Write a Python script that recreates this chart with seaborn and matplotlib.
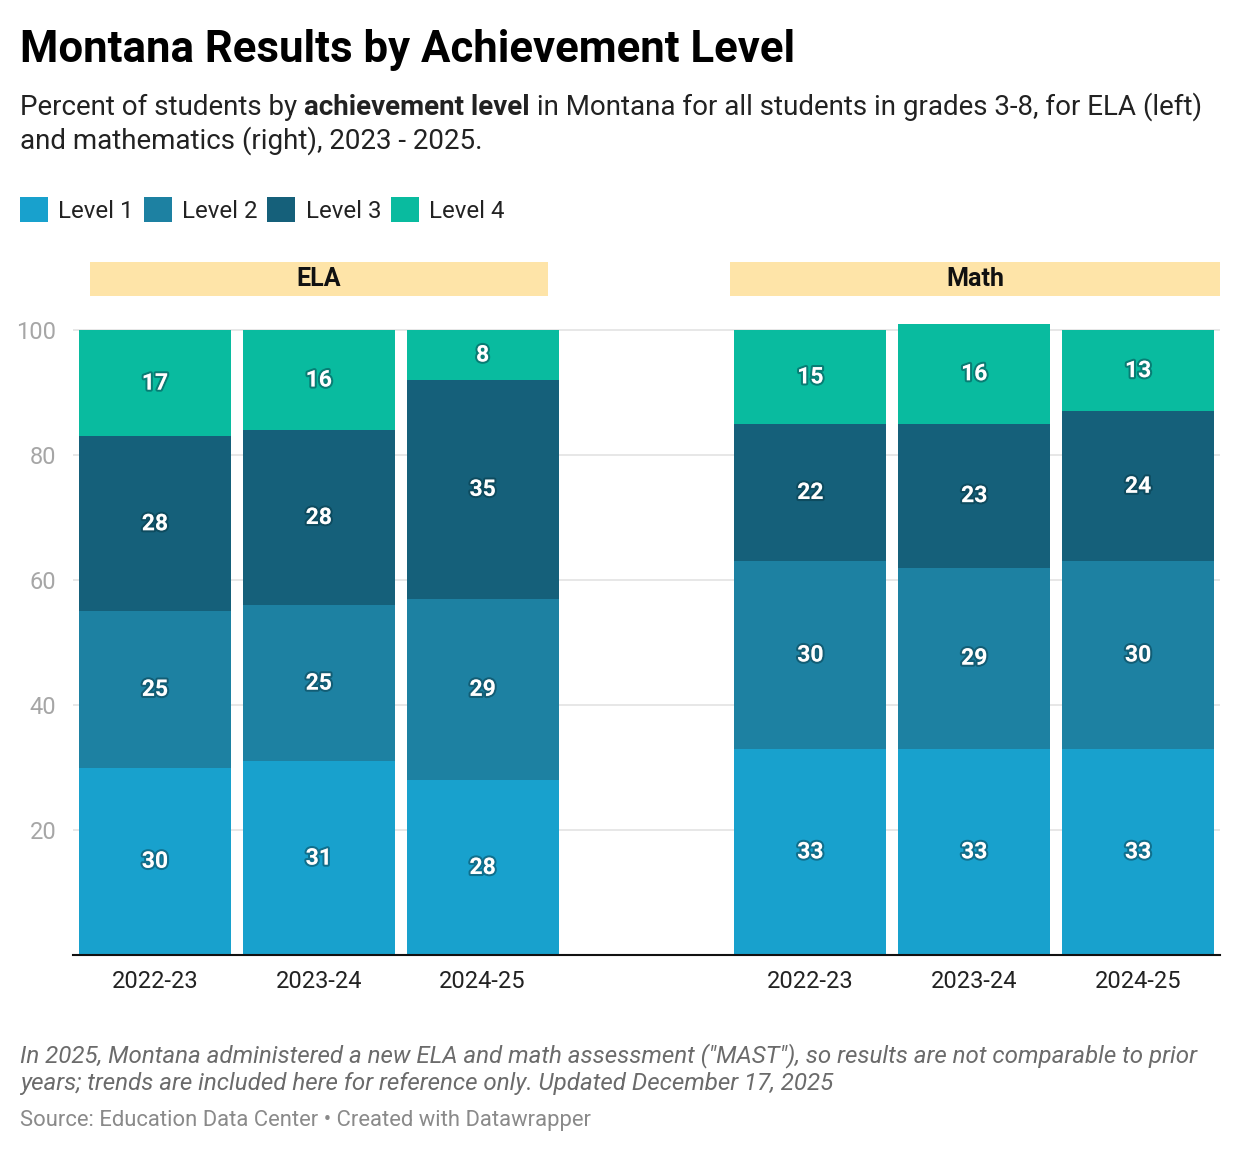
import matplotlib
matplotlib.use("Agg")
import matplotlib.pyplot as plt
import matplotlib.patches as mpatches
import matplotlib.patheffects as pe
import seaborn as sns
import pandas as pd

# Data
subjects = ["ELA", "ELA", "ELA", "Math", "Math", "Math"]
years = ["2022-23", "2023-24", "2024-25", "2022-23", "2023-24", "2024-25"]
level1 = [30, 31, 28, 33, 33, 33]
level2 = [25, 25, 29, 30, 29, 30]
level3 = [28, 28, 35, 22, 23, 24]
level4 = [17, 16, 8, 15, 16, 13]
levels = ["Level 1", "Level 2", "Level 3", "Level 4"]
colors = ["#18a1cd", "#1d81a2", "#15607a", "#09bb9f"]

W, H = 1240, 1152
FONT = "Roboto"

sns.set_theme(style="white")
plt.rcParams["font.family"] = [FONT, "DejaVu Sans"]


def fx(px):
    return px / W


def fy(py):
    return 1 - py / H


df = pd.DataFrame({"subject": subjects, "year": years,
                   "Level 1": level1, "Level 2": level2,
                   "Level 3": level3, "Level 4": level4})
df["slot"] = df["subject"] + " " + df["year"]
cum = df[levels].cumsum(axis=1)
for lv in levels:
    df["cum " + lv] = cum[lv]

order = list(df["slot"][:3]) + ["gap"] + list(df["slot"][3:])

fig = plt.figure(figsize=(W / 100, H / 100), dpi=100)
ax = fig.add_axes([fx(73), fy(955), fx(1220) - fx(73), fy(317.5) - fy(955)])

# stacked bars: draw cumulative totals from the top level down
for lv, col in reversed(list(zip(levels, colors))):
    sns.barplot(data=df, x="slot", y="cum " + lv, order=order, color=col,
                saturation=1, width=0.927, errorbar=None, linewidth=0, ax=ax)

shadow = [pe.withStroke(linewidth=3, foreground=(0.02, 0.2, 0.25, 0.45))]
for _, row in df.iterrows():
    xpos = order.index(row["slot"])
    for lv in levels:
        ymid = row["cum " + lv] - row[lv] / 2
        ax.text(xpos, ymid, str(row[lv]), ha="center", va="center",
                color="white", fontsize=16.5, fontweight="bold",
                path_effects=shadow, zorder=5)

ax.set_ylim(0, 102)
ax.set_xlim(-0.5, len(order) - 0.5)
ax.set_xticks(range(len(order)))
ax.set_xticklabels(["" if s == "gap" else s.split(" ")[1] for s in order],
                   fontsize=17, color="#222222")
ax.set_yticks([20, 40, 60, 80, 100])
ax.set_yticklabels(["20", "40", "60", "80", "100"], fontsize=17, color="#a6a6a6")
ax.tick_params(axis="both", length=0)
ax.tick_params(axis="y", pad=12)
ax.tick_params(axis="x", pad=11)
ax.set_xlabel("")
ax.set_ylabel("")
ax.yaxis.grid(True, color="#e3e3e3", linewidth=1.2)
ax.set_axisbelow(True)
for s in ["top", "right", "left"]:
    ax.spines[s].set_visible(False)
ax.spines["bottom"].set_color("#111111")
ax.spines["bottom"].set_linewidth(1.5)

# panel headers
for name, x0, x1 in [("ELA", 90, 548), ("Math", 730, 1220)]:
    fig.patches.append(mpatches.Rectangle((fx(x0), fy(296)), fx(x1) - fx(x0),
                                          fy(262) - fy(296), transform=fig.transFigure,
                                          facecolor="#fee4a8", edgecolor="none"))
    fig.text(fx((x0 + x1) / 2), fy(279), name, ha="center", va="center",
             fontsize=18, fontweight="bold", color="#111111")

# title and subtitle
fig.text(fx(20), fy(62), "Montana Results by Achievement Level", fontsize=31.5,
         fontweight="bold", color="#000000", va="baseline")

renderer = fig.canvas.get_renderer()
parts = [("Percent of students by ", "normal"), ("achievement level", "bold"),
         (" in Montana for all students in grades 3-8, for ELA (left)", "normal")]
xcur = fx(20)
for txt, wt in parts:
    t = fig.text(xcur, fy(115), txt, fontsize=20, fontweight=wt,
                 color="#222222", va="baseline")
    bb = t.get_window_extent(renderer=renderer)
    xcur += bb.width / W
fig.text(fx(20), fy(149), "and mathematics (right), 2023 - 2025.", fontsize=20,
         color="#222222", va="baseline")

# legend
handles = [mpatches.Patch(facecolor=c, edgecolor="none", label=l)
           for l, c in zip(levels, colors)]
fig.legend(handles=handles, loc="center left", bbox_to_anchor=(fx(20), fy(210)),
           ncol=4, frameon=False, fontsize=17.3, handlelength=1.18, handleheight=1.18,
           handletextpad=0.42, columnspacing=0.4, borderpad=0, borderaxespad=0,
           labelcolor="#222222")

# notes and source
fig.text(fx(20), fy(1062),
         'In 2025, Montana administered a new ELA and math assessment ("MAST"), so results are not comparable to prior',
         fontsize=17.4, style="italic", color="#6b6b6b", va="baseline")
fig.text(fx(20), fy(1090),
         "years; trends are included here for reference only. Updated December 17, 2025",
         fontsize=17.4, style="italic", color="#6b6b6b", va="baseline")
fig.text(fx(20), fy(1126), "Source: Education Data Center \u2022 Created with Datawrapper",
         fontsize=15.8, color="#8a8a8a", va="baseline")

fig.savefig("out.png", dpi=100, facecolor="white")
